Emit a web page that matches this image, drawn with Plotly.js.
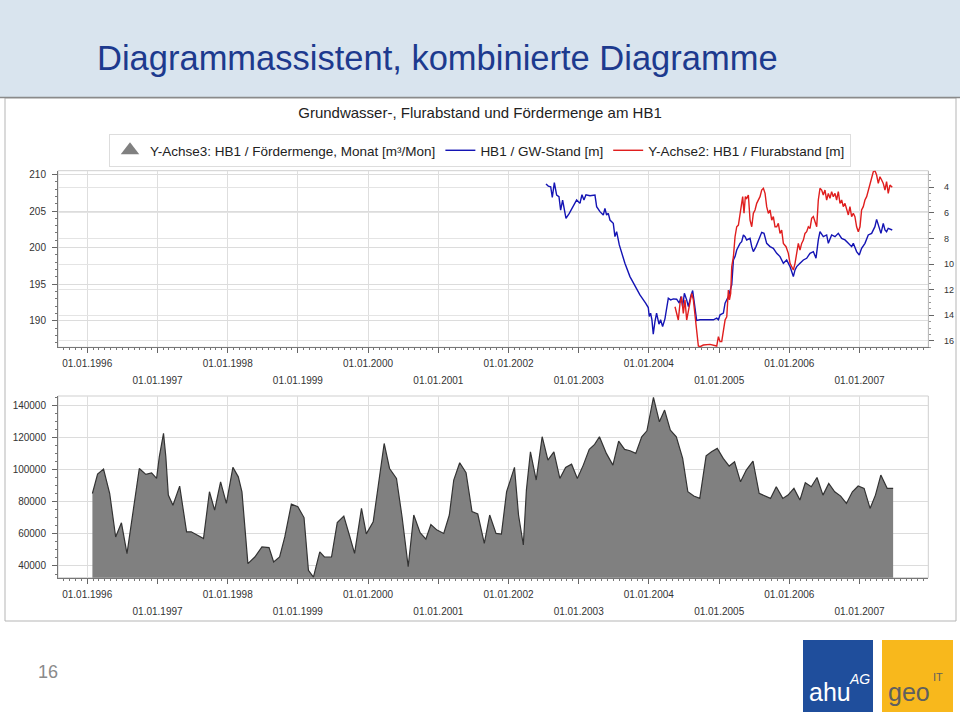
<!DOCTYPE html>
<html><head><meta charset="utf-8">
<script src="https://cdn.plot.ly/plotly-3.0.1.min.js"></script>
<style>html,body{margin:0;padding:0;background:#fff}#chart{width:960px;height:717px}</style>
</head><body><div id="chart"></div>
<script>
// ---- Fördermenge (monthly pumping volume, m³/Mon) ----
const flowDates = ['1996-01-28','1996-02-24','1996-03-26','1996-04-27','1996-05-28','1996-06-27','1996-07-26','1996-09-28','1996-11-01','1996-12-01','1996-12-27',
'1997-01-10','1997-02-01','1997-02-13','1997-02-26','1997-03-22','1997-04-26','1997-06-01','1997-06-25','1997-08-28','1997-09-28','1997-10-25','1997-11-25','1997-12-25',
'1998-01-28','1998-02-25','1998-03-16','1998-04-16','1998-05-22','1998-06-28','1998-08-04','1998-08-28','1998-09-28','1998-10-25','1998-11-28',
'1999-01-01','1999-02-02','1999-02-25','1999-03-23','1999-04-25','1999-05-19','1999-06-25','1999-07-25','1999-08-28','1999-09-28','1999-10-23','1999-11-28','1999-12-23',
'2000-01-28','2000-03-25','2000-04-22','2000-05-28','2000-06-26','2000-07-28','2000-08-26','2000-09-28','2000-10-28','2000-11-23','2000-12-25',
'2001-01-29','2001-02-27','2001-03-22','2001-04-22','2001-05-25','2001-06-25','2001-07-25','2001-08-28','2001-09-25','2001-10-28','2001-11-25','2001-12-22',
'2002-02-01','2002-02-22','2002-03-19','2002-04-04','2002-04-25','2002-05-25','2002-06-25','2002-07-25','2002-08-25','2002-09-25','2002-10-25','2002-11-25','2002-12-25',
'2003-01-25','2003-02-25','2003-03-25','2003-04-19','2003-05-25','2003-06-28','2003-07-28','2003-08-28','2003-09-25','2003-10-25','2003-11-25','2003-12-22',
'2004-01-25','2004-02-25','2004-03-23','2004-04-22','2004-05-23','2004-06-25','2004-07-22','2004-08-22','2004-09-22','2004-10-25','2004-11-22','2004-12-22',
'2005-01-22','2005-02-22','2005-03-22','2005-04-22','2005-05-22','2005-06-26','2005-07-28','2005-08-25','2005-09-25','2005-10-25','2005-11-28','2005-12-25',
'2006-01-25','2006-02-25','2006-03-25','2006-04-25','2006-05-25','2006-06-25','2006-07-25','2006-08-25','2006-09-25','2006-10-25','2006-11-25','2006-12-25',
'2007-01-25','2007-02-25','2007-03-25','2007-04-22','2007-05-25','2007-06-25'];
const flowValues = [85200,97300,100400,85200,58100,66900,47700,100800,97100,98100,94600,
108100,122700,108100,84200,77900,89800,61300,61300,57100,86300,74800,92500,79000,
101500,95600,86300,41500,45600,51900,51500,42500,45600,58100,78600,
76900,70200,37300,33100,48800,45600,45600,67100,71100,58400,47900,75900,60000,
67600,116400,100800,94600,70700,39600,71800,60800,56800,65900,62400,
60300,71800,93600,104400,98150,73900,72400,54100,71800,60300,59900,86300,
101500,71800,53100,87300,111200,93600,120600,106000,111200,94600,101500,103500,94600,
102900,112700,115800,120600,110200,102900,117900,112700,111850,110200,120600,124300,
145100,129900,137200,124700,120600,107100,86300,83600,82150,108700,111200,113300,
107100,102300,105000,92500,99800,105400,85300,83600,82150,89400,82150,84200,
88400,81100,91900,89400,95200,84200,91500,86300,83600,79000,86300,89850,
88400,75900,84200,96700,88400,88400];

// ---- GW-Stand (m), time given as decimal year ----
const gwYears = [2002.534,2002.567,2002.601,2002.624,2002.653,2002.686,2002.719,2002.743,2002.771,2002.819,2002.866,2002.923,2002.971,
2003.018,2003.047,2003.075,2003.104,2003.161,2003.232,2003.256,2003.303,2003.351,2003.374,2003.398,2003.422,2003.446,2003.493,2003.517,2003.541,2003.579,2003.612,2003.659,2003.731,2003.802,2003.873,2003.954,2003.992,
2004.006,2004.025,2004.044,2004.063,2004.087,2004.110,2004.144,2004.167,2004.196,2004.229,2004.277,2004.310,2004.348,2004.395,2004.433,2004.457,2004.481,2004.505,2004.538,2004.562,2004.595,2004.623,2004.647,2004.680,2004.728,2004.823,2004.918,2004.965,2004.989,
2005.013,2005.060,2005.084,2005.108,2005.131,2005.179,2005.203,2005.226,2005.250,2005.297,2005.321,2005.345,2005.369,2005.392,2005.440,2005.464,2005.487,2005.525,2005.558,2005.606,2005.639,2005.677,2005.725,2005.772,2005.820,2005.867,2005.915,2005.962,
2006.010,2006.057,2006.081,2006.105,2006.152,2006.200,2006.247,2006.295,2006.342,2006.380,2006.413,2006.437,2006.484,2006.532,2006.556,2006.603,2006.651,2006.698,2006.746,2006.793,2006.841,2006.888,2006.912,2006.959,2006.997,
2007.030,2007.078,2007.125,2007.173,2007.220,2007.244,2007.282,2007.306,2007.339,2007.363,2007.386,2007.410,2007.467];
const gwLevel = [208.68,208.40,208.31,206.86,208.86,207.18,206.95,205.13,206.50,204.00,204.68,205.59,206.50,
206.04,207.22,206.50,207.22,207.09,207.18,205.59,204.91,204.45,205.36,204.45,204.68,203.77,203.32,201.50,202.18,200.37,199.23,197.87,196.05,194.69,193.55,192.42,191.83,
190.60,191.06,190.15,188.19,189.92,191.06,189.56,190.15,189.24,190.28,193.10,192.87,193.01,192.96,192.42,193.33,191.96,193.78,192.87,191.96,193.33,194.14,192.42,190.06,190.15,190.15,190.15,190.37,190.15,
190.83,191.06,192.42,192.87,193.33,194.92,198.32,198.78,199.68,200.59,200.82,201.73,201.50,201.05,201.27,200.14,199.46,200.14,201.05,202.09,201.95,200.59,200.14,199.91,199.23,198.78,197.87,198.32,
197.41,196.05,196.96,197.41,197.87,198.32,198.55,199.23,199.46,198.55,201.05,202.18,201.50,201.73,200.59,201.73,201.50,201.95,201.27,201.05,200.59,200.14,200.59,199.46,199.00,
199.91,200.59,201.73,201.95,202.86,203.86,202.86,201.95,203.32,202.41,202.18,202.64,202.41];

// ---- Flurabstand (m below ground), decimal year ----
const faYears = [2004.372,2004.395,2004.419,2004.443,2004.466,2004.490,2004.514,2004.538,2004.561,2004.585,2004.609,2004.633,2004.656,2004.680,2004.704,2004.728,2004.775,2004.870,2004.918,2004.965,2004.989,
2005.013,2005.036,2005.060,2005.084,2005.108,2005.131,2005.146,2005.164,2005.179,2005.203,2005.226,2005.250,2005.274,2005.297,2005.321,2005.335,2005.354,2005.373,2005.392,2005.416,2005.440,2005.464,2005.487,2005.511,2005.535,2005.558,2005.582,2005.606,2005.630,2005.654,2005.677,2005.701,2005.725,2005.749,2005.772,2005.796,2005.820,2005.843,2005.867,2005.891,2005.915,2005.953,2005.986,
2006.010,2006.034,2006.057,2006.081,2006.105,2006.128,2006.152,2006.176,2006.200,2006.223,2006.247,2006.271,2006.295,2006.318,2006.342,2006.366,2006.390,2006.413,2006.437,2006.461,2006.484,2006.508,2006.532,2006.556,2006.579,2006.603,2006.627,2006.651,2006.674,2006.698,2006.722,2006.746,2006.769,2006.793,2006.817,2006.841,2006.864,2006.888,2006.912,2006.935,2006.959,2006.983,
2007.007,2007.030,2007.054,2007.078,2007.102,2007.125,2007.149,2007.173,2007.197,2007.220,2007.244,2007.268,2007.292,2007.316,2007.339,2007.363,2007.386,2007.410,2007.434,2007.467];
const faDepth = [13.33,13.85,14.37,13.07,12.54,13.85,12.80,14.37,13.59,12.80,12.28,12.80,13.85,15.41,16.40,16.45,16.32,16.27,16.32,16.40,15.67,
16.06,16.06,15.15,14.37,14.11,12.02,12.80,12.28,10.20,9.42,7.86,7.08,6.95,6.16,4.99,4.73,6.03,4.73,4.86,4.60,6.56,7.08,6.03,5.77,5.25,4.99,4.73,4.21,4.08,4.47,5.51,6.03,5.77,6.56,6.29,7.08,7.08,6.82,7.60,7.34,8.38,8.64,9.16,
9.94,10.20,10.46,9.94,9.16,8.38,8.90,8.38,8.12,7.60,7.47,7.08,7.21,6.42,6.29,6.69,7.08,4.99,4.08,4.21,4.60,4.21,4.99,4.47,4.86,4.34,4.73,4.47,4.99,4.34,5.25,4.99,5.51,5.25,5.77,6.16,5.51,6.29,6.03,6.29,7.08,7.47,
7.08,5.77,5.51,4.99,4.73,4.21,3.82,3.17,2.78,2.70,3.04,3.69,3.17,3.43,3.69,4.21,3.56,4.47,3.82,4.00];

// ---- axis ticks ----
const evenTicks = ['1996-01-01','1998-01-01','2000-01-01','2002-01-01','2004-01-01','2006-01-01'];
const evenLabels = ['01.01.1996','01.01.1998','01.01.2000','01.01.2002','01.01.2004','01.01.2006'];
const oddTicks = ['1997-01-01','1999-01-01','2001-01-01','2003-01-01','2005-01-01','2007-01-01'];
const oddLabels = ['01.01.1997','01.01.1999','01.01.2001','01.01.2003','01.01.2005','01.01.2007'];
const gwTicks = [190,195,200,205,210];
const faTicks = [4,6,8,10,12,14,16];
const flowTicks = [40000,60000,80000,100000,120000,140000];

const legendLabels = ['Y-Achse3: HB1 / Fördermenge, Monat [m³/Mon]','HB1 / GW-Stand [m]','Y-Achse2: HB1 / Flurabstand [m]'];

function toDate(y){
  const yr = Math.floor(y);
  const a = Date.UTC(yr,0,1), b = Date.UTC(yr+1,0,1);
  return new Date(a + (y-yr)*(b-a)).toISOString().replace('T',' ').slice(0,19);
}

// page geometry (pixels -> paper)
const W = 960, H = 717;
const px = v => v / W, py = v => 1 - v / H;
const xDom = [px(58), px(928.3)];
const topDom = [py(347.3), py(170.7)];
const botDom = [py(577.7), py(396)];
const xRange = ['1995-08-02','2007-12-25'];

const FONT = '"Liberation Sans", Arial, sans-serif';
const tickFont = {family: FONT, size: 10, color: '#333'};

const traces = [
  {x:[null], y:[null], type:'scatter', mode:'markers', xaxis:'x', yaxis:'y',
   marker:{symbol:'triangle-up', size:20, color:'#808080'}, name: legendLabels[0], legendgroup:'flow', hoverinfo:'skip'},
  {x: gwYears.map(toDate), y: gwLevel, type:'scatter', mode:'lines', xaxis:'x', yaxis:'y',
   line:{color:'#1414b4', width:1.4}, name: legendLabels[1]},
  {x: faYears.map(toDate), y: faDepth, type:'scatter', mode:'lines', xaxis:'x', yaxis:'y2',
   line:{color:'#e01e1e', width:1.4}, name: legendLabels[2]},
  {x: flowDates, y: flowValues, type:'scatter', mode:'lines', fill:'tozeroy', xaxis:'x2', yaxis:'y3',
   line:{color:'#333333', width:1.2}, fillcolor:'#808080', name: legendLabels[0], legendgroup:'flow', showlegend:false},
  // carriers for the second row of date labels (odd years)
  {x:[null], y:[null], type:'scatter', mode:'lines', xaxis:'x3', yaxis:'y', showlegend:false, hoverinfo:'skip'},
  {x:[null], y:[null], type:'scatter', mode:'lines', xaxis:'x4', yaxis:'y3', showlegend:false, hoverinfo:'skip'}
];

function xMain(anchor){
  return {domain: xDom, anchor: anchor, type:'date', range: xRange, tickmode:'array', tickvals: evenTicks, ticktext: evenLabels,
    ticks:'outside', ticklen:5, tickcolor:'#666', showgrid:true, gridcolor:'#dedede', gridwidth:1,
    showline:true, linecolor:'#777', linewidth:1, zeroline:false, tickfont: tickFont, ticklabelstandoff: 2,
    minor:{dtick:'M1', tick0:'1996-01-01', ticks:'outside', ticklen:2, tickcolor:'#777', showgrid:false}};
}
function xOdd(over, anchor){
  return {overlaying: over, anchor: anchor, domain: xDom, type:'date', range: xRange, tickmode:'array', tickvals: oddTicks, ticktext: oddLabels,
    ticks:'outside', ticklen:5, tickcolor:'#666', showgrid:true, gridcolor:'#dedede', gridwidth:1,
    showline:false, zeroline:false, tickfont: tickFont, ticklabelstandoff: 19};
}

const layout = {
  width: W, height: H, margin:{l:0,r:0,t:0,b:0}, paper_bgcolor:'#ffffff', plot_bgcolor:'#ffffff',
  font:{family: FONT, color:'#222'},
  showlegend: true,
  title:{text:'Grundwasser-, Flurabstand und Fördermenge am HB1', x:0.5, xanchor:'center', y: py(113), yanchor:'middle', yref:'paper',
    font:{family: FONT, size:15, color:'#222'}},
  legend:{orientation:'h', x:0.5, xanchor:'center', y: py(134), yanchor:'top', bgcolor:'#ffffff', bordercolor:'#dddddd', borderwidth:1,
    font:{family: FONT, size:13.5, color:'#222'}, itemwidth:30, traceorder:'normal'},
  xaxis: xMain('y'),
  xaxis2: xMain('y3'),
  xaxis3: xOdd('x','y'),
  xaxis4: xOdd('x2','y3'),
  yaxis:{domain: topDom, anchor:'x', range:[186.4, 210.5], tickmode:'array', tickvals: gwTicks, ticks:'outside', ticklen:5, tickcolor:'#666',
    showline:true, linecolor:'#777', showgrid:true, gridcolor:'#dcdcdc', zeroline:false, tickfont: tickFont, ticklabelstandoff: 4,
    minor:{dtick:1, ticks:'outside', ticklen:2, tickcolor:'#777', showgrid:false}},
  yaxis2:{overlaying:'y', side:'right', anchor:'x', range:[16.5, 2.7], tickmode:'array', tickvals: faTicks, ticks:'outside', ticklen:5, tickcolor:'#666',
    showline:true, linecolor:'#bbb', showgrid:true, gridcolor:'#e4e4e4', zeroline:false, tickfont:{family: FONT, size:9, color:'#333'}, ticklabelstandoff: 8,
    minor:{dtick:0.5, ticks:'outside', ticklen:2, tickcolor:'#999', showgrid:false}},
  yaxis3:{domain: botDom, anchor:'x2', range:[32700, 146000], tickmode:'array', tickvals: flowTicks, tickformat:'d', ticks:'outside', ticklen:5, tickcolor:'#666',
    showline:true, linecolor:'#777', showgrid:true, gridcolor:'#dcdcdc', zeroline:false, tickfont: tickFont, ticklabelstandoff: 4,
    minor:{dtick:5000, ticks:'outside', ticklen:2, tickcolor:'#777', showgrid:false}},
  shapes:[
    {type:'rect', xref:'paper', yref:'paper', x0:0, x1:1, y0:py(97), y1:1, fillcolor:'#d9e4ee', line:{width:0}, layer:'below'},
    {type:'line', xref:'paper', yref:'paper', x0:0, x1:1, y0:py(97.5), y1:py(97.5), line:{color:'#8a8a8a', width:1.5}},
    {type:'rect', xref:'paper', yref:'paper', x0:px(5), x1:px(956), y0:py(621), y1:py(98), line:{color:'#b5b5b5', width:1}, layer:'below'},
    {type:'rect', xref:'x domain', yref:'y domain', x0:0, x1:1, y0:0, y1:1, line:{color:'#cfcfcf', width:1}, layer:'below'},
    {type:'rect', xref:'x2 domain', yref:'y3 domain', x0:0, x1:1, y0:0, y1:1, line:{color:'#cfcfcf', width:1}, layer:'below'},
    {type:'rect', xref:'paper', yref:'paper', x0:px(803), x1:px(873), y0:py(712), y1:py(640), fillcolor:'#1f4e9c', line:{width:0}},
    {type:'rect', xref:'paper', yref:'paper', x0:px(882), x1:px(953), y0:py(712), y1:py(640), fillcolor:'#f8b81c', line:{width:0}}
  ],
  annotations:[
    {text:'Diagrammassistent, kombinierte Diagramme', xref:'paper', yref:'paper', x:px(95), y:py(58), xanchor:'left', yanchor:'middle',
     showarrow:false, font:{family: FONT, size:34.5, color:'#1d3a8e'}},
    {text:'16', xref:'paper', yref:'paper', x:px(48), y:py(672), xanchor:'center', yanchor:'middle', showarrow:false,
     font:{family: FONT, size:18, color:'#8a8a8a'}},
    {text:'ahu', xref:'paper', yref:'paper', x:px(807), y:py(692), xanchor:'left', yanchor:'middle', showarrow:false,
     font:{family: FONT, size:25, color:'#ffffff'}},
    {text:'<i>AG</i>', xref:'paper', yref:'paper', x:px(847), y:py(679), xanchor:'left', yanchor:'middle', showarrow:false,
     font:{family: FONT, size:14, color:'#ffffff'}},
    {text:'geo', xref:'paper', yref:'paper', x:px(886), y:py(692), xanchor:'left', yanchor:'middle', showarrow:false,
     font:{family: FONT, size:25, color:'#5f5f5f'}},
    {text:'IT', xref:'paper', yref:'paper', x:px(931), y:py(677), xanchor:'left', yanchor:'middle', showarrow:false,
     font:{family: FONT, size:11, color:'#5f5f5f'}}
  ]
};

Plotly.newPlot('chart', traces, layout, {displayModeBar:false, staticPlot:true});
</script></body></html>
